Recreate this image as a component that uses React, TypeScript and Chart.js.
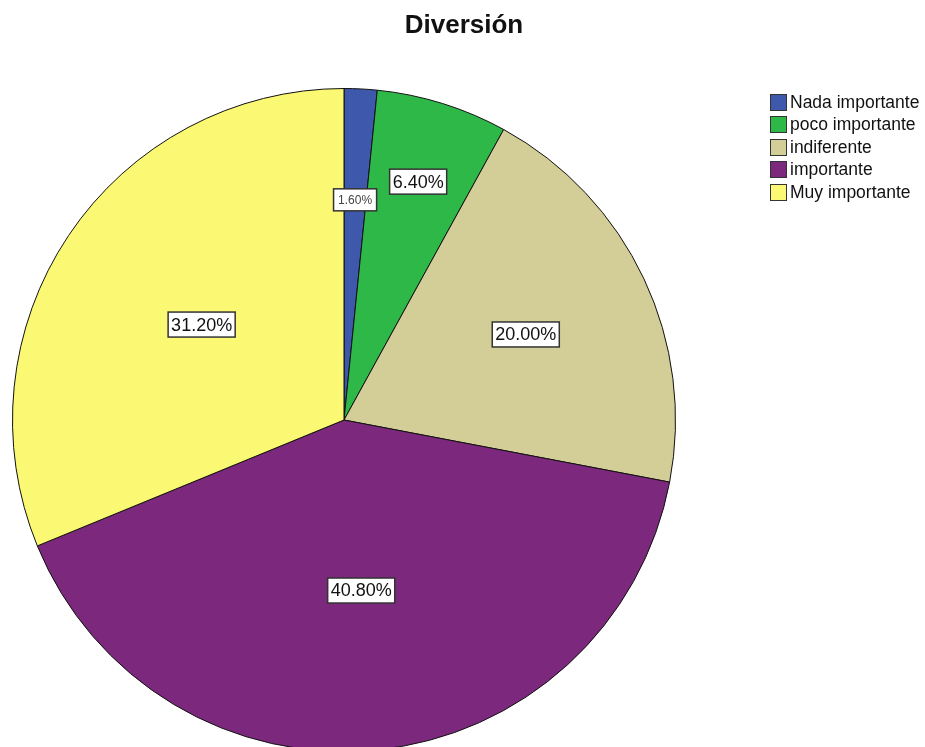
import React, { useEffect, useRef } from "react";
import { Chart, registerables } from "chart.js";

Chart.register(...registerables);

const title = "Diversión";
const categories = ["Nada importante", "poco importante", "indiferente", "importante", "Muy importante"];
const percentages = [1.6, 6.4, 20.0, 40.8, 31.2];
const colors = ["#3E58AC", "#2EB848", "#D3CE97", "#7C287D", "#FBF873"];
const labelRadius = [0.665, 0.753, 0.606, 0.517, 0.517];
const labelFontSize = [12, 18, 18, 18, 18];

const boxLabelPlugin = {
  id: "boxLabels",
  afterDatasetsDraw(chart: any) {
    const ctx = chart.ctx;
    const meta = chart.getDatasetMeta(0);
    meta.data.forEach((arc: any, i: number) => {
      const { x, y, startAngle, endAngle, outerRadius } = arc.getProps(
        ["x", "y", "startAngle", "endAngle", "outerRadius"],
        true
      );
      const mid = (startAngle + endAngle) / 2;
      const r = outerRadius * labelRadius[i];
      const lx = x + Math.cos(mid) * r;
      const ly = y + Math.sin(mid) * r;
      const txt = percentages[i].toFixed(2) + "%";
      const fs = labelFontSize[i];
      ctx.save();
      ctx.font = `${fs}px "Liberation Sans", Arial, sans-serif`;
      const w = ctx.measureText(txt).width + (fs > 14 ? 6 : 9);
      const h = fs > 14 ? 25 : 22;
      ctx.fillStyle = "#ffffff";
      ctx.fillRect(lx - w / 2, ly - h / 2, w, h);
      ctx.strokeStyle = "#333333";
      ctx.lineWidth = 1.5;
      ctx.strokeRect(lx - w / 2, ly - h / 2, w, h);
      ctx.fillStyle = fs > 14 ? "#111111" : "#444444";
      ctx.textAlign = "center";
      ctx.textBaseline = "middle";
      ctx.fillText(txt, lx, ly + 1);
      ctx.restore();
    });
  },
};

export default function App() {
  const ref = useRef<HTMLCanvasElement | null>(null);
  useEffect(() => {
    if (!ref.current) return;
    const chart = new Chart(ref.current, {
      type: "pie",
      data: {
        labels: categories,
        datasets: [
          {
            data: percentages,
            backgroundColor: colors,
            borderColor: "#111111",
            borderWidth: 1,
          },
        ],
      },
      options: {
        responsive: false,
        animation: false,
        devicePixelRatio: 1,
        layout: { padding: { left: 12, right: 249, top: 88, bottom: 8 } },
        plugins: {
          legend: { display: false },
          tooltip: { enabled: false },
          title: { display: false },
        },
      },
      plugins: [boxLabelPlugin],
    });
    return () => chart.destroy();
  }, []);

  return (
    <div style={{ position: "fixed", left: 0, top: 0, width: 925, height: 747, overflow: "hidden", background: "#fff" }}>
      <canvas ref={ref} width={925} height={760} style={{ display: "block" }} />
      <div
        style={{
          position: "absolute",
          left: 364,
          top: 11,
          width: 200,
          textAlign: "center",
          fontFamily: '"Liberation Sans", Arial, sans-serif',
          fontWeight: "bold",
          fontSize: 26,
          lineHeight: "26px",
          color: "#111",
        }}
      >
        {title}
      </div>
      <div style={{ position: "absolute", left: 770, top: 91, fontFamily: '"Liberation Sans", Arial, sans-serif', fontSize: 17.5, color: "#111" }}>
        {categories.map((c, i) => (
          <div key={c} style={{ display: "flex", alignItems: "center", height: 22.5 }}>
            <span
              style={{
                display: "inline-block",
                width: 15,
                height: 15,
                background: colors[i],
                border: "1.5px solid #333",
                marginRight: 3,
                flexShrink: 0,
              }}
            />
            <span>{c}</span>
          </div>
        ))}
      </div>
    </div>
  );
}
